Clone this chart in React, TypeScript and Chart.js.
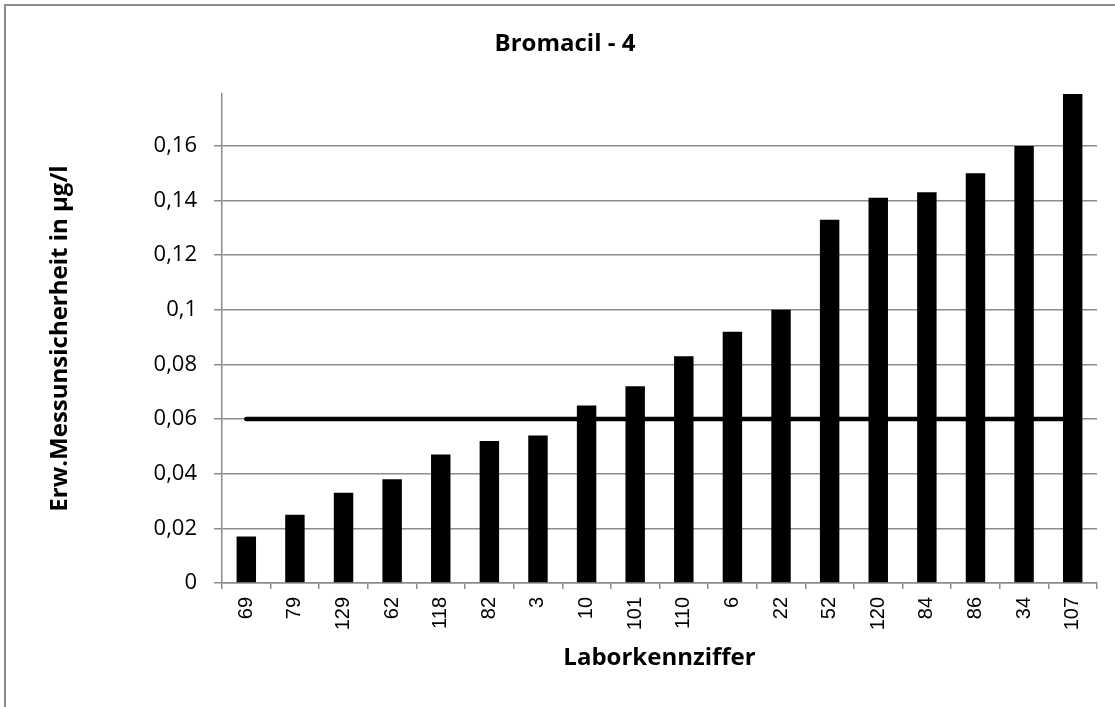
import React, { useEffect, useRef } from "react";
import { Chart, registerables } from "chart.js";

Chart.register(...registerables);

const chartTitle = "Bromacil - 4";
const yAxisTitle = "Erw.Messunsicherheit in µg/l";
const xAxisTitle = "Laborkennziffer";

const categories = ["69", "79", "129", "62", "118", "82", "3", "10", "101", "110", "6", "22", "52", "120", "84", "86", "34", "107"];
const uncertaintyValues = [0.017, 0.025, 0.033, 0.038, 0.047, 0.052, 0.054, 0.065, 0.072, 0.083, 0.092, 0.1, 0.133, 0.141, 0.143, 0.15, 0.16, 0.18];
const limitValue = 0.06;
const limitLine = categories.map(() => limitValue);

const yMin = 0;
const yMax = 0.179;
const yStep = 0.02;

const GRID = "#8c8c8c";

const framePlugin = {
  id: "frame",
  beforeDraw(chart: any) {
    const { ctx, width, height } = chart;
    ctx.save();
    ctx.fillStyle = "#ffffff";
    ctx.fillRect(0, 0, width, height);
    ctx.strokeStyle = "#8a8a8a";
    ctx.lineWidth = 2;
    ctx.beginPath();
    ctx.moveTo(5, height);
    ctx.lineTo(5, 5);
    ctx.lineTo(width, 5);
    ctx.stroke();
    ctx.restore();
  },
};

export default function App() {
  const ref = useRef<HTMLCanvasElement | null>(null);

  useEffect(() => {
    if (!ref.current) return;
    const chart = new Chart(ref.current, {
      type: "bar",
      data: {
        labels: categories,
        datasets: [
          {
            type: "line",
            label: "Grenze",
            data: limitLine,
            borderColor: "#000000",
            borderWidth: 4.5,
            pointRadius: 0,
            borderCapStyle: "round",
            fill: false,
            order: 0,
          } as any,
          {
            type: "bar",
            label: "Messunsicherheit",
            data: uncertaintyValues,
            backgroundColor: "#000000",
            borderWidth: 0,
            barPercentage: 0.4,
            categoryPercentage: 1.0,
            order: 1,
          },
        ],
      },
      options: {
        responsive: false,
        animation: false,
        layout: { padding: { left: 33, right: 18, top: 0, bottom: 0 } },
        plugins: {
          legend: { display: false },
          tooltip: { enabled: false },
          title: {
            display: true,
            text: chartTitle,
            color: "#000000",
            font: { family: "'Open Sans'", weight: "bold", size: 24 },
            padding: { top: 30, bottom: 35.2 },
          },
        },
        scales: {
          x: {
            offset: true,
            grid: {
              display: true,
              offset: true,
              drawOnChartArea: false,
              drawTicks: true,
              tickLength: 6,
              color: GRID,
              lineWidth: 1.5,
            },
            border: { display: true, color: GRID, width: 1.5 },
            ticks: {
              autoSkip: false,
              minRotation: 90,
              maxRotation: 90,
              padding: 8,
              color: "#000000",
              font: { family: "'Liberation Sans'", size: 20 },
            },
            title: {
              display: true,
              text: xAxisTitle,
              color: "#000000",
              font: { family: "'Open Sans'", weight: "bold", size: 24 },
              padding: { top: 0, bottom: 34 },
            },
            afterFit(scale: any) {
              scale.height = 124;
            },
          },
          y: {
            min: yMin,
            max: yMax,
            grid: {
              color: GRID,
              lineWidth: 1.5,
              tickLength: 8,
              drawTicks: true,
            },
            border: { display: true, color: GRID, width: 1.5 },
            ticks: {
              stepSize: yStep,
              includeBounds: false,
              padding: 17,
              color: "#000000",
              font: { family: "'Open Sans'", size: 22 },
              callback: (value: any) => String(Number(Number(value).toFixed(3))).replace(".", ","),
            },
            title: {
              display: true,
              text: yAxisTitle,
              color: "#000000",
              font: { family: "'Open Sans'", weight: "bold", size: 24 },
              padding: { top: 13, bottom: 0 },
            },
            afterFit(scale: any) {
              scale.width = 222 - 33;
            },
          },
        },
      },
      plugins: [framePlugin],
    });
    return () => chart.destroy();
  }, []);

  return (
    <div style={{ position: "absolute", left: 0, top: 0, width: 1115, height: 707, background: "#fff" }}>
      <canvas ref={ref} width={1115} height={707} style={{ display: "block", width: 1115, height: 707 }} />
    </div>
  );
}
